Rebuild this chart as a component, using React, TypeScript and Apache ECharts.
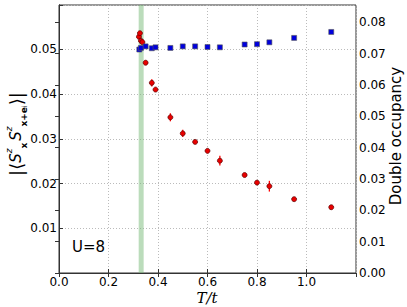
import React, { useEffect, useRef } from "react";
import * as echarts from "echarts";

// Spin correlation |<S^z_x S^z_{x+e_i}>| (left axis), red circles with error bars
const spinT = [0.323, 0.327, 0.331, 0.337, 0.35, 0.375, 0.39, 0.45, 0.5, 0.55, 0.6, 0.65, 0.75, 0.8, 0.85, 0.95, 1.1];
const spinValues = [0.0528, 0.0536, 0.0519, 0.0516, 0.047, 0.0425, 0.041, 0.0348, 0.0312, 0.0293, 0.0273, 0.0251, 0.0219, 0.0202, 0.0194, 0.0165, 0.0147];
const spinErrors = [0.0003, 0.0003, 0.0003, 0.0003, 0.0005, 0.0008, 0.0002, 0.0009, 0.0008, 0.0002, 0.0002, 0.0011, 0.0002, 0.0002, 0.0012, 0.0002, 0.0002];

// Double occupancy (right axis), blue squares
const doubleT = [0.3245, 0.331, 0.35, 0.375, 0.39, 0.45, 0.5, 0.55, 0.6, 0.65, 0.75, 0.8, 0.85, 0.95, 1.1];
const doubleValues = [0.0713, 0.0718, 0.0723, 0.0717, 0.072, 0.0718, 0.0723, 0.0723, 0.0721, 0.072, 0.0729, 0.073, 0.0736, 0.075, 0.0769];

// Critical temperature band
const bandRange = [0.322, 0.342];

const xTicks = [0, 0.2, 0.4, 0.6, 0.8, 1.0];
const leftTicks = [0.01, 0.02, 0.03, 0.04, 0.05];

export default function App() {
  const ref = useRef<HTMLDivElement>(null);
  useEffect(() => {
    if (!ref.current) return;
    const chart = echarts.init(ref.current, null, { renderer: "svg" });
    const axisColor = "#333";
    const tickFont = { fontFamily: "DejaVu Sans", fontSize: 12, lineHeight: 12, color: "#000" };
    const isMult = (v: number, step: number) => Math.abs(v / step - Math.round(v / step)) < 1e-6;
    chart.setOption({
      animation: false,
      backgroundColor: "#fff",
      grid: {
        left: 59,
        top: 5,
        width: 297,
        height: 268,
        show: true,
        borderColor: axisColor,
        borderWidth: 1,
        backgroundColor: "transparent",
      },
      xAxis: [
        {
          type: "value",
          min: 0,
          max: 1.2,
          interval: 0.2,
          position: "bottom",
          axisLine: { show: true, lineStyle: { color: axisColor, width: 1 } },
          axisTick: { show: true, inside: true, length: 4, lineStyle: { color: axisColor } },
          axisLabel: {
            ...tickFont,
            margin: 3,
            showMaxLabel: false,
            formatter: (v: number) => (xTicks.some((t) => Math.abs(t - v) < 1e-6) ? v.toFixed(1) : ""),
          },
          splitLine: { show: true, lineStyle: { color: "#bbb", type: [1, 2], width: 1 } },
        },
        {
          type: "value",
          min: 0,
          max: 1.2,
          interval: 0.2,
          position: "top",
          axisLine: { show: true, lineStyle: { color: axisColor, width: 1 } },
          axisTick: { show: true, inside: true, length: 4, lineStyle: { color: axisColor } },
          axisLabel: { show: false },
          splitLine: { show: false },
        },
      ],
      yAxis: [
        {
          type: "value",
          min: 0,
          max: 0.0599,
          interval: 0.01,
          position: "left",
          axisLine: { show: true, lineStyle: { color: axisColor, width: 1 } },
          axisTick: { show: true, inside: true, length: 4, lineStyle: { color: axisColor } },
          axisLabel: {
            ...tickFont,
            margin: 2,
            formatter: (v: number) => (leftTicks.some((t) => Math.abs(t - v) < 1e-6) ? v.toFixed(2) : ""),
          },
          splitLine: { show: true, lineStyle: { color: "#bbb", type: [1, 2], width: 1 } },
        },
        {
          type: "value",
          min: 0,
          max: 0.0855,
          interval: 0.01,
          position: "right",
          axisLine: { show: true, lineStyle: { color: axisColor, width: 1 } },
          axisTick: { show: true, inside: true, length: 4, lineStyle: { color: axisColor } },
          axisLabel: {
            ...tickFont,
            margin: 3,
            showMaxLabel: false,
            formatter: (v: number) => (isMult(v, 0.01) && v < 0.085 ? v.toFixed(2) : ""),
          },
          splitLine: { show: false },
        },
      ],
      series: [
        {
          type: "custom",
          name: "band",
          xAxisIndex: 0,
          yAxisIndex: 0,
          silent: true,
          data: [[bandRange[0], bandRange[1]]],
          renderItem: (params: any, api: any) => {
            const a = api.coord([api.value(0), 0]);
            const b = api.coord([api.value(1), 0.0599]);
            return {
              type: "rect",
              shape: { x: a[0], y: b[1], width: b[0] - a[0], height: a[1] - b[1] },
              style: { fill: "rgba(120,185,120,0.5)" },
            };
          },
          z: 1,
        },
        {
          type: "custom",
          name: "errors",
          xAxisIndex: 0,
          yAxisIndex: 0,
          silent: true,
          data: spinT.map((t, i) => [t, spinValues[i] - spinErrors[i], spinValues[i] + spinErrors[i]]),
          encode: { x: 0, y: [1, 2] },
          renderItem: (params: any, api: any) => {
            const p1 = api.coord([api.value(0), api.value(1)]);
            const p2 = api.coord([api.value(0), api.value(2)]);
            return {
              type: "line",
              shape: { x1: p1[0], y1: p1[1], x2: p2[0], y2: p2[1] },
              style: { stroke: "#ff0000", lineWidth: 1.3 },
            };
          },
          z: 3,
        },
        {
          type: "scatter",
          name: "spin",
          xAxisIndex: 0,
          yAxisIndex: 0,
          data: spinT.map((t, i) => [t, spinValues[i]]),
          symbol: "circle",
          symbolSize: 5,
          itemStyle: { color: "#e80000", borderColor: "#5a0000", borderWidth: 0.7, opacity: 1 },
          z: 4,
        },
        {
          type: "scatter",
          name: "double",
          xAxisIndex: 0,
          yAxisIndex: 1,
          data: doubleT.map((t, i) => [t, doubleValues[i]]),
          symbol: "rect",
          symbolSize: 5,
          itemStyle: { color: "#0000dd", borderColor: "#555", borderWidth: 0.6, opacity: 1 },
          z: 5,
        },
      ],
      graphic: [
        {
          type: "text",
          x: 72,
          y: 247,
          style: {
            text: "U=8",
            fontFamily: "DejaVu Sans",
            fontSize: 15,
            fill: "#000",
            verticalAlign: "middle",
            align: "left",
          },
        },
        {
          type: "text",
          x: 207,
          y: 290,
          style: {
            text: "T/t",
            fontFamily: "DejaVu Serif",
            fontStyle: "italic",
            fontSize: 15,
            lineHeight: 15,
            fill: "#000",
            align: "center",
            verticalAlign: "top",
          },
        },
        {
          type: "text",
          x: 396,
          y: 136,
          rotation: Math.PI / 2,
          style: {
            text: "Double occupancy",
            fontFamily: "DejaVu Sans",
            fontSize: 15,
            fill: "#000",
            align: "center",
            verticalAlign: "middle",
          },
        },
        {
          type: "text",
          x: 16,
          y: 134,
          rotation: Math.PI / 2,
          style: {
            text: "{b||⟨}{s|S}{p|z}{q|x}{g| }{s|S}{p|z}{q|x+e}{r|i}{b|⟩|}",
            align: "center",
            verticalAlign: "middle",
            fill: "#000",
            rich: {
              b: { fontFamily: "DejaVu Sans", fontSize: 18, lineHeight: 24, fill: "#000" },
              s: { fontFamily: "DejaVu Sans", fontStyle: "italic", fontSize: 15, lineHeight: 24, fill: "#000" },
              g: { fontFamily: "DejaVu Sans", fontSize: 6, lineHeight: 24, fill: "#000" },
              p: { fontFamily: "DejaVu Sans", fontStyle: "italic", fontSize: 9, lineHeight: 12, verticalAlign: "top", fill: "#000" },
              q: { fontFamily: "DejaVu Sans", fontWeight: "bold", fontSize: 9, lineHeight: 12, verticalAlign: "bottom", fill: "#000" },
              r: { fontFamily: "DejaVu Sans", fontSize: 7, lineHeight: 9, verticalAlign: "bottom", fill: "#000" },
            },
          },
        },
      ],
    });
    return () => chart.dispose();
  }, []);
  return (
    <div
      ref={ref}
      style={{ position: "absolute", left: 0, top: 0, width: 407, height: 307 }}
    />
  );
}
